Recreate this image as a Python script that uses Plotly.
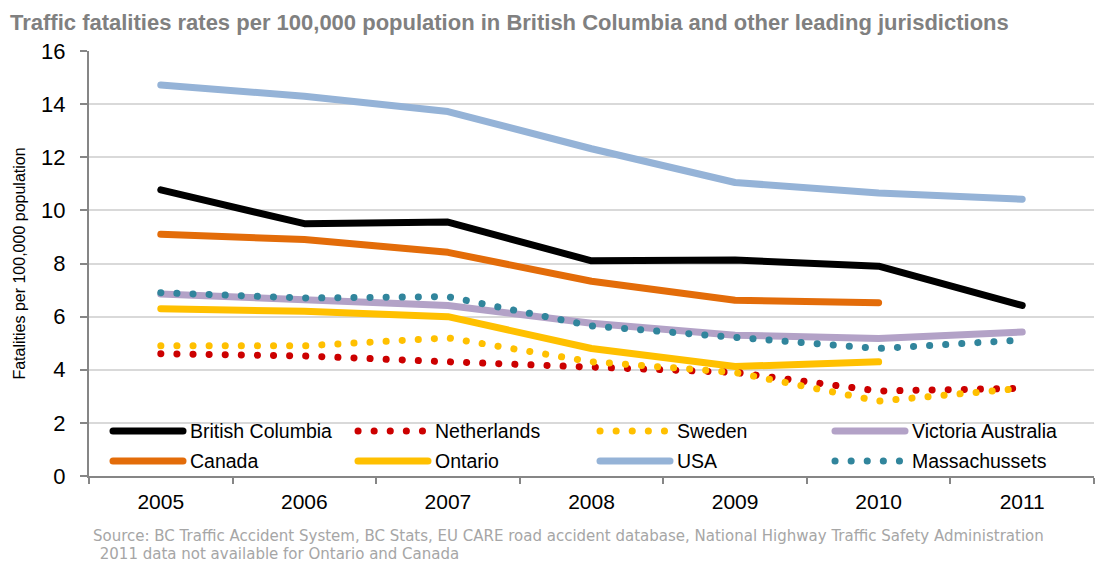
import plotly.graph_objects as go

years = ["2005", "2006", "2007", "2008", "2009", "2010", "2011"]
bc = [10.77, 9.5, 9.56, 8.1, 8.13, 7.9, 6.42]
canada = [9.1, 8.9, 8.42, 7.33, 6.62, 6.52]
usa = [14.72, 14.3, 13.72, 12.32, 11.05, 10.65, 10.42]
victoria = [6.85, 6.62, 6.42, 5.75, 5.3, 5.18, 5.42]
massachusetts = [6.9, 6.7, 6.75, 5.65, 5.22, 4.8, 5.12]
ontario = [6.3, 6.2, 6.0, 4.8, 4.12, 4.3]
sweden = [4.9, 4.9, 5.2, 4.3, 3.9, 2.82, 3.3]
netherlands = [4.6, 4.52, 4.3, 4.1, 3.9, 3.2, 3.3]

series = [
    ("USA", usa, "#95b3d7", "solid"),
    ("British Columbia", bc, "#000000", "solid"),
    ("Canada", canada, "#e36c09", "solid"),
    ("Victoria Australia", victoria, "#b3a2c7", "solid"),
    ("Ontario", ontario, "#ffc000", "solid"),
    ("Netherlands", netherlands, "#cc0000", "dot"),
    ("Sweden", sweden, "#ffc000", "dot"),
    ("Massachussets", massachusetts, "#31859c", "dot"),
]
style = {name: (col, d) for name, _, col, d in series}

W, H = 1102, 563
ML, MR, MT, MB = 89, 8, 51, 87
DOT = "0.1px,16px"

fig = go.Figure()
for name, vals, col, d in series:
    fig.add_trace(go.Scatter(
        x=years[:len(vals)], y=vals, mode="lines", name=name,
        line=dict(color=col, width=7,
                  dash="solid" if d == "solid" else DOT),
        showlegend=False, hoverinfo="x+y+name"))

def px(x):
    return (x - ML) / (W - ML - MR)

def py(y):
    return (H - MB - y) / (H - MT - MB)

base = "Liberation Sans, Arial, sans-serif"

legend_rows = [
    ["British Columbia", "Netherlands", "Sweden", "Victoria Australia"],
    ["Canada", "Ontario", "USA", "Massachussets"],
]
col_x = [113, 358, 600, 835]
row_y = [431, 461]
shapes = []
annotations = []
for r, row in enumerate(legend_rows):
    for c, name in enumerate(row):
        col, d = style[name]
        x0 = col_x[c]
        shapes.append(dict(
            type="line", xref="paper", yref="paper",
            x0=px(x0), x1=px(x0 + 70), y0=py(row_y[r]), y1=py(row_y[r]),
            line=dict(color=col, width=7, dash="solid" if d == "solid" else DOT)))
        annotations.append(dict(
            text=name, xref="paper", yref="paper", x=px(x0 + 75), y=py(row_y[r]),
            xanchor="left", yanchor="middle", showarrow=False,
            font=dict(family=base, size=19.5, color="#000000")))

source_lines = [
    "Source: BC Traffic Accident System, BC Stats, EU CARE road accident database, National Highway Traffic Safety Administration",
    " 2011 data not available for Ontario and Canada",
]
for i, t in enumerate(source_lines):
    annotations.append(dict(
        text=t, xref="paper", yref="paper", x=px(91 if i == 0 else 93), y=py(536 + 18 * i),
        xanchor="left", yanchor="middle", showarrow=False,
        font=dict(family="DejaVu Sans", size=15, color="#a6a6a6")))

fig.update_layout(
    width=W, height=H,
    margin=dict(l=ML, r=MR, t=MT, b=MB),
    paper_bgcolor="white", plot_bgcolor="white",
    title=dict(text="<b>Traffic fatalities rates per 100,000 population in British Columbia and other leading jurisdictions</b>",
               x=10 / W, xanchor="left", y=1 - 22 / H, yanchor="middle",
               font=dict(family=base, size=22, color="#808080")),
    shapes=shapes, annotations=annotations,
    showlegend=False,
)
fig.update_xaxes(
    type="category", range=[-0.5, 6.5], tickson="boundaries",
    ticks="outside", ticklen=6, tickcolor="#868686", tickwidth=2,
    showline=True, linecolor="#868686", linewidth=2,
    showgrid=False, tickfont=dict(family=base, size=21, color="#000000"),
    ticklabelstandoff=6,
)
fig.update_yaxes(
    range=[0, 16], dtick=2, ticks="outside", ticklen=7, tickcolor="#868686", tickwidth=2,
    showline=True, linecolor="#868686", linewidth=2,
    showgrid=True, gridcolor="#d9d9d9", gridwidth=1.5, zeroline=False,
    tickfont=dict(family=base, size=22, color="#000000"),
    ticklabelstandoff=10,
    title=dict(text="Fatalities per 100,000 population", standoff=12,
               font=dict(family=base, size=16, color="#000000")),
)

post = ("var s=document.createElement('style');"
        "s.textContent='html,body{margin:0;padding:0;overflow:hidden}"
        ".js-line,.shapelayer path{stroke-linecap:round;stroke-linejoin:round}';"
        "document.head.appendChild(s);")
fig.write_html("out.html", post_script=post, config={"displayModeBar": False})
